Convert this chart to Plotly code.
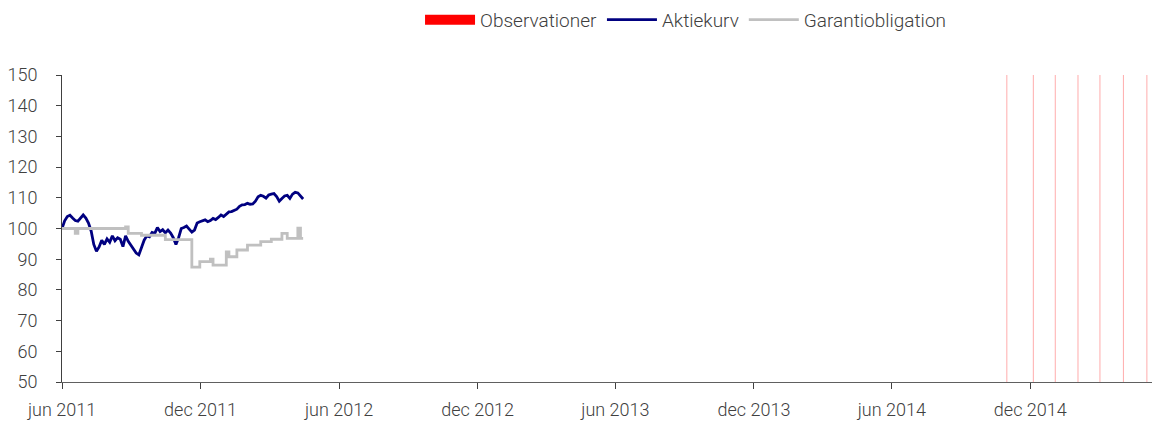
import pandas as pd
import plotly.graph_objects as go

# --- data ---
start_date = "2011-06-01"
step = "84h"   # half-week sampling
aktiekurv = [100.0, 102.5, 103.9, 104.3, 103.4, 102.6, 102.4, 103.6, 104.4, 103.4,
             101.8, 99.2, 94.8, 92.6, 94.0, 96.2, 94.8, 96.6, 95.5, 97.6,
             96.0, 97.0, 96.5, 94.1, 97.6, 95.8, 94.5, 93.0, 92.0, 91.4,
             94.0, 96.2, 97.6, 97.3, 98.7, 98.4, 100.3, 99.0, 99.6, 98.6,
             99.5, 98.5, 97.0, 94.8, 97.0, 100.0, 100.3, 100.8, 99.8, 98.8,
             99.5, 101.8, 102.2, 102.4, 102.8, 102.2, 102.6, 103.3, 102.9, 103.6,
             104.4, 103.9, 104.6, 105.4, 105.5, 106.0, 106.3, 107.2, 107.7, 107.8,
             108.2, 107.9, 108.0, 108.9, 110.3, 110.8, 110.5, 109.9, 110.9, 111.2,
             111.4, 110.4, 108.9, 109.8, 110.6, 110.8, 109.8, 111.2, 111.8, 111.6,
             110.6, 109.6]
garanti = [100.0, 100.0, 100.0, 100.0, 100.0, 98.4, 100.0, 100.0, 100.0, 100.0,
           100.0, 100.0, 100.0, 100.0, 100.0, 100.0, 100.0, 100.0, 100.0, 100.0,
           100.0, 100.0, 100.0, 100.0, 100.5, 98.4, 98.4, 98.4, 98.4, 98.4,
           97.8, 97.8, 97.8, 97.8, 97.8, 97.8, 97.8, 97.8, 97.8, 96.4,
           96.4, 96.4, 96.4, 96.4, 96.4, 96.4, 96.4, 96.4, 96.4, 87.4,
           87.4, 87.4, 89.2, 89.2, 89.2, 89.2, 90.0, 88.1, 88.1, 88.1,
           88.1, 88.1, 92.4, 90.8, 90.8, 90.8, 93.0, 93.0, 93.0, 93.0,
           94.6, 94.6, 94.6, 94.6, 94.6, 95.7, 95.7, 95.7, 95.7, 96.5,
           96.5, 96.5, 96.5, 98.4, 98.4, 96.8, 96.8, 96.8, 96.8, 100.1,
           96.8, 96.8]
obs_dates = ["2014-10-31", "2014-12-05", "2015-01-03", "2015-02-02",
             "2015-03-03", "2015-04-03", "2015-05-04"]
obs_low, obs_high = 50, 150
tick_dates = ["2011-06-01", "2011-12-01", "2012-06-01", "2012-12-01",
              "2013-06-01", "2013-12-01", "2014-06-01", "2014-12-01"]
tick_labels = ["jun 2011", "dec 2011", "jun 2012", "dec 2012",
               "jun 2013", "dec 2013", "jun 2014", "dec 2014"]
x_range = ["2011-06-01", "2015-05-20"]

dates = pd.date_range(start_date, periods=len(aktiekurv), freq=step)

FONT = "Roboto"
TXT = "#404040"
fig = go.Figure()

# observation lines
ox, oy = [], []
for d in obs_dates:
    ox += [d, d, None]
    oy += [obs_low, obs_high, None]
fig.add_trace(go.Scatter(x=ox, y=oy, mode="lines", line=dict(color="rgba(255,0,0,0.33)", width=1),
                         showlegend=False, legendgroup="obs", hoverinfo="skip"))
fig.add_trace(go.Scatter(x=[None], y=[None], mode="lines", name="Observationer",
                         line=dict(color="#ff0000", width=11), legendgroup="obs"))
fig.add_trace(go.Scatter(x=dates, y=aktiekurv, mode="lines", name="Aktiekurv",
                         line=dict(color="#000080", width=2.8)))
fig.add_trace(go.Scatter(x=dates, y=garanti, mode="lines", name="Garantiobligation",
                         line=dict(color="#c0c0c0", width=2.8, shape="hv")))

# page body adds an 8px offset; margins compensate so the plot sits at 62..1159 x 75..382
fig.update_layout(
    width=1160, height=421,
    margin=dict(l=54, r=9, t=67, b=47),
    paper_bgcolor="white", plot_bgcolor="white",
    font=dict(family=FONT, size=18, color=TXT, weight=300),
    legend=dict(orientation="h", x=0.5684, xanchor="center", yref="container", y=0.972,
                yanchor="middle", font=dict(family=FONT, size=19, color=TXT, weight=300),
                traceorder="normal", itemwidth=50, tracegroupgap=0),
    xaxis=dict(type="date", range=x_range, tickvals=tick_dates, ticktext=tick_labels,
               showgrid=False, showline=True, linecolor="#606060", linewidth=1,
               ticks="outside", ticklen=6, tickcolor="#404040", zeroline=False,
               automargin=False, ticklabelstandoff=5),
    yaxis=dict(range=[50, 150], dtick=10, tick0=50, showgrid=False, showline=True,
               linecolor="#404040", linewidth=1, ticks="outside", ticklen=5,
               tickcolor="#404040", zeroline=False, automargin=False,
               ticklabelstandoff=15),
)

fig.write_html("out.html")
